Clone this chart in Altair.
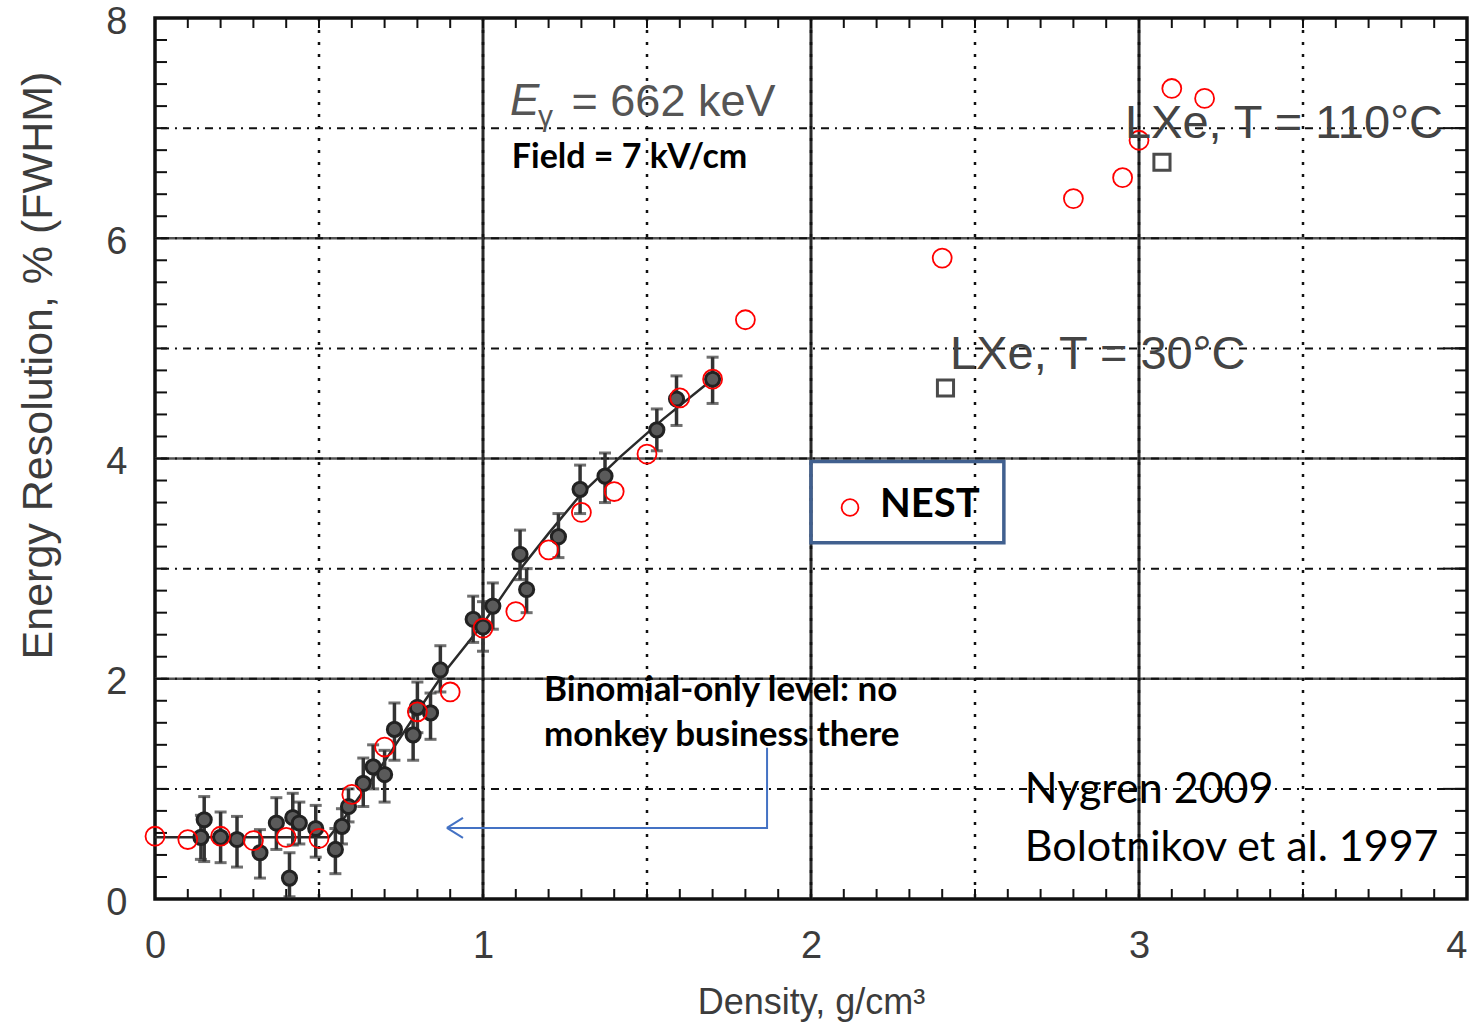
import altair as alt
import pandas as pd

# ---------------- data ----------------
nest_x = [0.0, 0.1, 0.2, 0.3, 0.4, 0.5, 0.6, 0.7, 0.8, 0.9, 1.0, 1.1, 1.2, 1.3, 1.4, 1.5, 1.6, 1.7, 1.8,
          2.4, 2.8, 2.95, 3.0, 3.1, 3.2]
nest_y = [0.57, 0.54, 0.57, 0.53, 0.56, 0.55, 0.95, 1.38, 1.70, 1.88, 2.46, 2.61, 3.17, 3.51, 3.70, 4.04,
          4.55, 4.72, 5.26, 5.82, 6.36, 6.55, 6.89, 7.36, 7.27]

bol_x = [0.15, 0.14, 0.20, 0.25, 0.32, 0.37, 0.41, 0.42, 0.44, 0.49, 0.55, 0.57, 0.59, 0.635, 0.665,
         0.70, 0.73, 0.787, 0.80, 0.84, 0.87, 0.97, 1.0, 1.03, 1.113, 1.133, 1.23, 1.296, 1.372,
         1.53, 1.59, 1.70]
bol_y = [0.72, 0.56, 0.56, 0.54, 0.42, 0.69, 0.19, 0.74, 0.69, 0.64, 0.45, 0.66, 0.84, 1.05, 1.20,
         1.13, 1.54, 1.49, 1.74, 1.69, 2.08, 2.54, 2.47, 2.66, 3.13, 2.81, 3.29, 3.72, 3.84,
         4.26, 4.54, 4.72]
bol_lo = [0.34, 0.36, 0.33, 0.29, 0.19, 0.45, 0.02, 0.49, 0.50, 0.38, 0.23, 0.50, 0.70, 0.84, 1.00,
          0.88, 1.26, 1.26, 1.51, 1.45, 1.88, 2.33, 2.25, 2.45, 2.90, 2.60, 3.10, 3.50, 3.60,
          4.07, 4.30, 4.50]
bol_hi = [0.93, 0.76, 0.79, 0.75, 0.63, 0.92, 0.42, 0.96, 0.88, 0.85, 0.64, 0.82, 1.00, 1.28, 1.40,
          1.35, 1.78, 1.70, 1.97, 1.87, 2.30, 2.75, 2.70, 2.87, 3.35, 3.00, 3.50, 3.94, 4.05,
          4.45, 4.75, 4.92]

fit_x = [0.0, 0.53, 0.58, 0.70, 0.80, 0.88, 1.00, 1.12, 1.20, 1.30, 1.42, 1.55, 1.70]
fit_y = [0.56, 0.56, 0.75, 1.25, 1.70, 2.05, 2.50, 3.02, 3.32, 3.68, 4.02, 4.36, 4.72]

sq_x = [2.41, 3.07]
sq_y = [4.64, 6.69]

x_ticks = [0, 1, 2, 3, 4]
y_ticks = [0, 2, 4, 6, 8]
solid_x = [1, 2, 3]
solid_y = [2, 4, 6]
dot_x = [0.5, 1.0, 1.5, 2.0, 2.5, 3.0, 3.5]
dash_y = [1, 2, 3, 4, 5, 6, 7]
minor_x = [round(i * 0.1, 1) for i in range(1, 40)]
minor_y = [round(i * 0.2, 1) for i in range(1, 40)]
major_y_right = [1, 2, 3, 4, 5, 6, 7]

arrow_x = [1.866, 1.866, 0.89, 0.939, 0.89, 0.89, 0.939]
arrow_y = [1.373, 0.645, 0.645, 0.736, 0.645, 0.645, 0.555]
arrow_g = [0, 0, 0, 1, 1, 2, 2]
arrow_o = [0, 1, 2, 0, 1, 0, 1]

W, H = 1312, 881

xs = alt.Scale(domain=[0, 4], nice=False, zero=False)
ys = alt.Scale(domain=[0, 8], nice=False, zero=False)

nest = pd.DataFrame({"x": nest_x, "y": nest_y})
bol = pd.DataFrame({"x": bol_x, "y": bol_y, "lo": bol_lo, "hi": bol_hi})
fit = pd.DataFrame({"x": fit_x, "y": fit_y, "o": list(range(len(fit_x)))})
sq = pd.DataFrame({"x": sq_x, "y": sq_y})
arr = pd.DataFrame({"x": arrow_x, "y": arrow_y, "g": arrow_g, "o": arrow_o})

X = lambda f="x", **k: alt.X(f, type="quantitative", scale=xs, **k)
Y = lambda f="y", **k: alt.Y(f, type="quantitative", scale=ys, **k)

axes = alt.Chart(pd.DataFrame({"x": [0], "y": [0]})).mark_point(opacity=0).encode(
    x=X(axis=alt.Axis(values=x_ticks, format="d", grid=False, domain=False, ticks=False,
                      labelFontSize=38, labelPadding=28, labelColor="#3c3c3c",
                      labelFont="Liberation Sans", labelFlush=False,
                      labelAlign={"condition": {"test": "datum.value >= 4", "value": "right"},
                                  "value": "center"},
                      title="Density, g/cm³", titleFontSize=36, titleFont="Liberation Sans",
                      titleFontWeight="normal", titleColor="#3c3c3c", titlePadding=20)),
    y=Y(axis=alt.Axis(values=y_ticks, format="d", grid=False, domain=False, ticks=False,
                      labelFontSize=38, labelPadding=28, labelColor="#3c3c3c",
                      labelFont="Liberation Sans", labelFlush=False, labelOffset=4,
                      title="Energy Resolution, %  (FWHM)", titleFontSize=43,
                      titleFont="Liberation Sans", titleFontWeight="normal",
                      titleColor="#3c3c3c", titleX=-117, titleY=347,
                      titleAlign="center", titleBaseline="middle")),
)

vsolid = alt.Chart(pd.DataFrame({"x": solid_x})).mark_rule(color="#2a2a2a", strokeWidth=3).encode(x=X())
hsolid = alt.Chart(pd.DataFrame({"y": solid_y})).mark_rule(color="#555555", strokeWidth=2.5).encode(y=Y())
vdot = alt.Chart(pd.DataFrame({"x": dot_x})).mark_rule(color="#111111", strokeWidth=2.5,
                                                         strokeDash=[3, 9]).encode(x=X())
hdash = alt.Chart(pd.DataFrame({"y": dash_y})).mark_rule(color="#111111", strokeWidth=2,
                                                           strokeDash=[8, 6, 2, 6]).encode(y=Y())

tb = alt.Chart(pd.DataFrame({"x": minor_x})).mark_rule(color="#111", strokeWidth=2).encode(
    x=X(), y=alt.value(H), y2=alt.value(H - 10))
tt = alt.Chart(pd.DataFrame({"x": minor_x})).mark_rule(color="#111", strokeWidth=2).encode(
    x=X(), y=alt.value(0), y2=alt.value(10))
tl = alt.Chart(pd.DataFrame({"y": minor_y})).mark_rule(color="#111", strokeWidth=2).encode(
    y=Y(), x=alt.value(0), x2=alt.value(12))
tr = alt.Chart(pd.DataFrame({"y": minor_y})).mark_rule(color="#111", strokeWidth=2).encode(
    y=Y(), x=alt.value(W), x2=alt.value(W - 12))
trm = alt.Chart(pd.DataFrame({"y": major_y_right})).mark_rule(color="#111", strokeWidth=2).encode(
    y=Y(), x=alt.value(W), x2=alt.value(W - 24))

box = alt.Chart(pd.DataFrame({"x": [2.0], "x2": [2.588], "y": [3.236], "y2": [3.973]})).mark_rect(
    fill=None, stroke="#41608F", strokeWidth=3.5).encode(
    x=X(), x2="x2", y=Y(), y2="y2")

fitl = alt.Chart(fit).mark_line(color="#2a2a2a", strokeWidth=2.5).encode(x=X(), y=Y(), order="o")

err = alt.Chart(bol).mark_rule(color="#333333", strokeWidth=3.5).encode(x=X(), y=Y("lo"), y2="hi")
caplo = alt.Chart(bol).mark_tick(color="#333333", orient="horizontal", size=12, thickness=3).encode(
    x=X(), y=Y("lo"))
caphi = alt.Chart(bol).mark_tick(color="#333333", orient="horizontal", size=12, thickness=3).encode(
    x=X(), y=Y("hi"))
bpts = alt.Chart(bol).mark_point(shape="circle", size=200, filled=True, fill="#5a5a5a",
                                 stroke="#222222", strokeWidth=3, opacity=1).encode(x=X(), y=Y())

sqm = alt.Chart(sq).mark_point(shape="square", size=260, filled=False, stroke="#4a4a4a",
                               strokeWidth=3, opacity=1).encode(x=X(), y=Y())

nestm = alt.Chart(nest).mark_point(shape="circle", size=360, filled=False, stroke="#ff0000",
                                   strokeWidth=1.8, opacity=1).encode(x=X(), y=Y())
nest_leg = alt.Chart(pd.DataFrame({"x": [2.119], "y": [3.555]})).mark_point(
    shape="circle", size=280, filled=False, stroke="#ff0000", strokeWidth=1.8, opacity=1).encode(
    x=X(), y=Y())

arrl = alt.Chart(arr).mark_line(color="#4472C4", strokeWidth=2).encode(
    x=X(), y=Y(), detail="g:N", order="o")


def txt(df, **kw):
    return alt.Chart(pd.DataFrame(df)).mark_text(align="left", baseline="middle", **kw).encode(
        x=X(), y=Y(), text="t")


t_e = txt({"x": [1.082], "y": [7.24], "t": ["E"]}, fontSize=44, font="Liberation Sans",
          fontStyle="italic", color="#555555")
t_g = txt({"x": [1.168], "y": [7.10], "t": ["γ"]}, fontSize=30, font="Liberation Sans",
          color="#555555")
t_eq = txt({"x": [1.27], "y": [7.24], "t": ["= 662 keV"]}, fontSize=45, font="Liberation Sans",
           color="#555555")
t_field = txt({"x": [1.088], "y": [6.73], "t": ["Field = 7 kV/cm"]}, fontSize=34, font="Lato",
              fontWeight="bold", color="#000000")
t_lxe = txt({"x": [2.957, 2.424], "y": [7.04, 4.94], "t": ["LXe, T = 110°C", "LXe, T = 30°C"]},
            fontSize=47, font="Liberation Sans", color="#444444")
t_nest = txt({"x": [2.21], "y": [3.58], "t": ["NEST"]}, fontSize=40, font="Lato",
             fontWeight="bold", color="#000000")
t_bin = txt({"x": [1.186, 1.186], "y": [1.90, 1.49],
             "t": ["Binomial-only level: no", "monkey business there"]},
            fontSize=35, font="Lato", fontWeight="bold", color="#000000")
t_ref = txt({"x": [2.652, 2.652], "y": [0.99, 0.46],
             "t": ["Nygren 2009", "Bolotnikov et al. 1997"]},
            fontSize=43, font="Lato", color="#000000")

chart = alt.layer(
    axes, hsolid, hdash, vsolid, vdot, box, tb, tt, tl, tr, trm,
    fitl, err, caplo, caphi, bpts, sqm, nestm, nest_leg, arrl,
    t_e, t_g, t_eq, t_field, t_lxe, t_nest, t_bin, t_ref,
).properties(
    width=W, height=H,
    autosize=alt.AutoSizeParams(type="none"),
    padding={"left": 155, "top": 18, "right": 7, "bottom": 131},
    background="white",
).configure_view(stroke="#111111", strokeWidth=3.5)

chart.save("out.html", embed_options={"renderer": "svg", "actions": False})
